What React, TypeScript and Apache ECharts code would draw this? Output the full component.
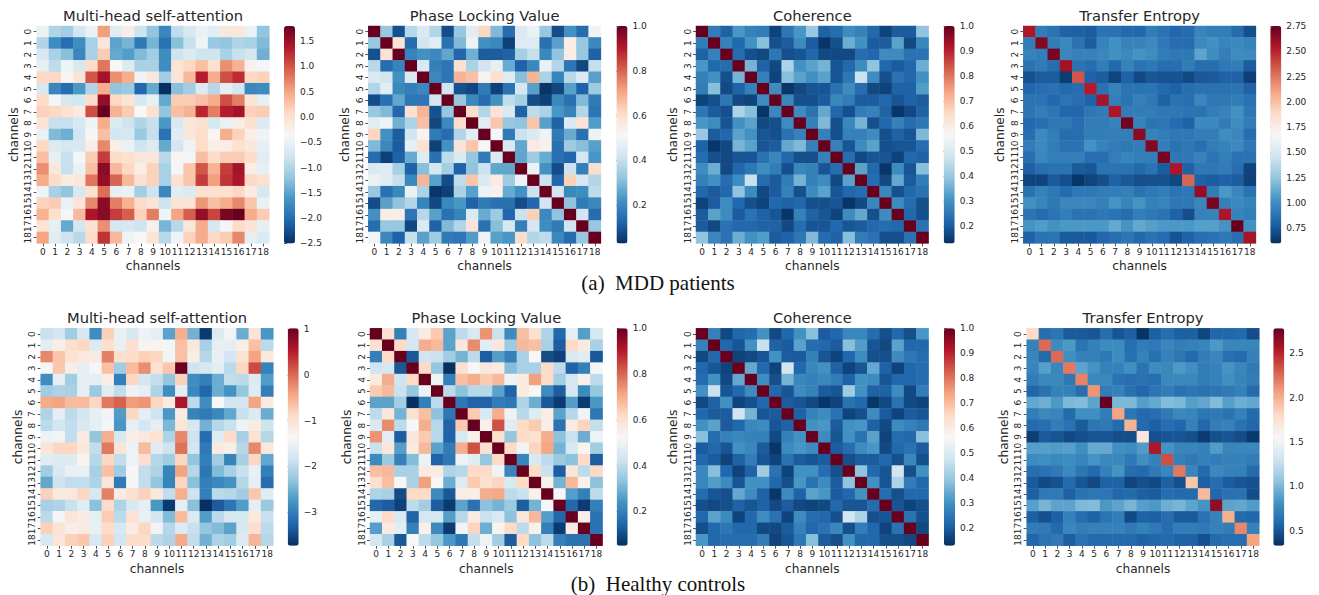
import React, { useEffect, useRef } from "react";
import * as echarts from "echarts";

const channels = ["0","1","2","3","4","5","6","7","8","9","10","11","12","13","14","15","16","17","18"];

const attentionMdd = [
[-0.5,-1.0,-1.1,-0.75,-0.5,0.55,-0.6,-0.2,-0.8,-1.2,-1.75,-0.9,-0.7,-0.5,-0.6,-0.1,-0.1,-0.5,-1.2],
[-1.0,-1.7,-2.0,-1.7,-1.05,-0.1,-1.5,-1.35,-1.9,-1.35,-1.95,-1.25,-0.85,-0.45,-1.15,-1.2,-1.0,-1.05,-1.3],
[-0.7,-1.05,-1.25,-1.75,-1.05,0.2,-1.45,-1.55,-1.3,-1.1,-1.7,-0.8,-0.65,-0.8,-0.8,-1.05,-0.85,-0.75,-1.4],
[-0.55,-0.9,-0.45,-0.7,0.05,0.8,-0.35,-0.65,-1.05,-1.05,-1.7,-0.05,0.1,0.3,0.0,0.65,0.4,-0.25,-0.4],
[0.1,0.1,-0.3,-0.05,1.0,1.45,0.65,0.45,-0.45,-0.1,-1.1,-0.05,0.35,1.35,0.45,1.05,1.25,0.1,0.15],
[-0.7,-1.75,-2.0,-1.6,-1.0,0.45,-1.2,-1.15,-2.05,-1.45,-2.5,-1.25,-1.1,-0.65,-0.95,-0.55,-0.75,-1.75,-1.7],
[0.05,-0.4,-0.7,-0.75,0.05,1.55,0.1,-0.05,-0.7,-0.55,-1.45,0.2,0.2,0.3,0.45,1.05,0.75,-0.05,-0.55],
[0.15,0.1,0.0,-0.15,1.05,1.8,0.4,0.2,-0.35,0.0,-1.2,0.3,0.4,1.3,0.75,1.35,1.45,0.15,0.2],
[-0.05,-0.85,-0.85,-0.7,-0.45,0.45,-0.65,-0.8,-1.0,-0.85,-1.6,-0.7,-0.1,0.0,-0.7,-0.5,-0.2,0.0,-0.65],
[-0.5,-1.3,-1.4,-0.75,-0.4,0.3,-0.75,-0.7,-1.15,-0.85,-1.95,-0.6,-0.1,0.05,-0.3,0.45,0.15,-0.2,-0.45],
[0.1,-0.65,-0.7,-0.7,-0.2,0.7,-0.2,-0.5,-0.8,-0.65,-1.45,-0.75,-0.45,0.05,-0.2,-0.2,0.0,-0.1,-0.55],
[0.3,-0.55,-0.85,-0.4,0.2,1.15,0.05,0.0,-0.1,-0.1,-0.95,-0.3,-0.4,0.3,0.05,0.2,0.2,0.05,-0.6],
[0.65,-0.1,-0.85,-0.5,0.3,1.6,0.35,0.1,-0.2,0.15,-1.05,-0.4,0.25,1.0,0.4,1.15,1.45,-0.2,-0.55],
[0.45,0.05,-0.15,-0.1,0.8,1.55,0.9,0.35,0.0,0.15,-1.05,0.0,0.25,1.15,0.55,1.2,1.4,0.1,0.0],
[-0.45,-1.05,-1.2,-0.7,0.0,0.85,-0.55,-0.5,-1.1,-0.8,-1.75,-0.6,-0.65,0.0,0.0,0.0,0.1,-0.15,-0.7],
[0.15,0.2,-0.5,-0.05,0.7,1.6,0.75,0.4,0.05,-0.05,-0.8,-0.05,-0.05,0.6,0.3,0.45,0.7,0.25,-0.5],
[0.4,0.0,-0.4,0.35,1.4,1.6,1.15,0.95,0.15,0.75,-0.45,0.5,0.95,1.55,1.1,1.7,1.8,0.45,0.2],
[-0.05,-0.55,-1.45,-0.75,0.0,0.65,-0.75,-0.7,-0.8,-0.25,-1.35,-0.95,-0.1,0.45,-0.7,-0.4,0.05,-0.05,-0.55],
[0.5,-0.6,-0.8,-0.95,0.05,1.2,0.35,-0.45,-0.35,-0.05,-0.95,-0.45,0.15,0.45,0.1,0.2,0.7,-0.55,-0.65],
];

const plvMdd = [
[1,.33,.09,.38,.44,.37,.08,.33,.46,.62,.3,.14,.44,.48,.33,.08,.22,.14,.5],
[.33,1,.58,.14,.42,.46,.15,.3,.49,.22,.2,.06,.45,.45,.15,.25,.55,.33,.2],
[.09,.58,1,.19,.22,.2,.26,.13,.28,.11,.11,.12,.35,.4,.2,.32,.55,.33,.12],
[.38,.14,.19,1,.44,.18,.16,.59,.36,.42,.47,.27,.12,.2,.48,.37,.16,.07,.4],
[.44,.42,.22,.44,1,.2,.16,.68,.66,.53,.59,.45,.31,.68,.36,.19,.38,.44,.25],
[.37,.46,.2,.18,.2,1,.42,.09,.07,.17,.06,.15,.43,.25,.04,.07,.25,.12,.34],
[.08,.15,.26,.16,.16,.42,1,.33,.2,.14,.22,.39,.35,.08,.06,.2,.15,.3,.17],
[.33,.3,.13,.59,.68,.09,.33,1,.6,.37,.58,.44,.12,.39,.36,.23,.19,.37,.16],
[.46,.49,.28,.36,.66,.07,.2,.6,1,.46,.65,.33,.32,.65,.25,.12,.44,.58,.24],
[.62,.22,.11,.42,.53,.17,.14,.37,.46,1,.51,.17,.41,.44,.49,.17,.27,.15,.49],
[.3,.2,.11,.47,.59,.06,.22,.58,.65,.51,1,.44,.26,.56,.54,.15,.34,.31,.25],
[.14,.06,.12,.27,.45,.15,.39,.44,.33,.17,.44,1,.26,.34,.27,.15,.13,.43,.23],
[.44,.45,.35,.12,.31,.43,.35,.12,.32,.41,.26,.26,1,.49,.22,.08,.41,.18,.6],
[.48,.45,.4,.2,.68,.25,.08,.39,.65,.44,.56,.34,.49,1,.41,.13,.63,.43,.37],
[.33,.15,.2,.48,.36,.04,.06,.36,.25,.49,.54,.27,.22,.41,1,.42,.2,.21,.39],
[.08,.25,.32,.37,.19,.07,.2,.23,.12,.17,.15,.15,.08,.13,.42,1,.32,.17,.2],
[.22,.55,.55,.16,.38,.25,.15,.19,.44,.27,.34,.13,.41,.63,.2,.32,1,.42,.14],
[.14,.33,.33,.07,.44,.12,.3,.37,.58,.15,.31,.43,.18,.43,.21,.17,.42,1,.33],
[.5,.2,.12,.4,.25,.34,.17,.16,.24,.49,.25,.23,.6,.37,.39,.2,.14,.33,1],
];

const coherenceMdd = [
[1,.26,.21,.31,.27,.26,.16,.25,.31,.4,.21,.23,.29,.27,.22,.16,.2,.2,.39],
[.26,1,.27,.22,.3,.38,.18,.2,.29,.2,.14,.18,.35,.3,.2,.2,.33,.17,.28],
[.21,.27,1,.23,.18,.17,.25,.18,.19,.22,.17,.17,.17,.23,.22,.29,.29,.24,.24],
[.31,.22,.23,1,.36,.21,.17,.43,.3,.33,.36,.19,.22,.29,.39,.22,.2,.22,.35],
[.27,.3,.18,.36,1,.27,.16,.38,.33,.3,.33,.19,.25,.47,.29,.18,.24,.22,.3],
[.26,.38,.17,.21,.27,1,.29,.14,.17,.19,.19,.24,.29,.23,.17,.16,.21,.21,.32],
[.16,.18,.25,.17,.16,.29,1,.28,.18,.18,.2,.28,.26,.2,.2,.22,.19,.21,.2],
[.25,.2,.18,.43,.38,.14,.28,1,.29,.24,.34,.22,.18,.26,.27,.21,.14,.17,.21],
[.31,.29,.19,.3,.33,.17,.18,.29,1,.27,.37,.18,.28,.36,.18,.22,.27,.23,.25],
[.4,.2,.22,.33,.3,.19,.18,.24,.27,1,.27,.18,.27,.27,.29,.18,.21,.19,.37],
[.21,.14,.17,.36,.33,.19,.2,.34,.37,.27,1,.27,.19,.29,.33,.18,.19,.19,.23],
[.23,.18,.17,.19,.19,.24,.28,.22,.18,.18,.27,1,.23,.17,.19,.19,.16,.22,.21],
[.29,.35,.17,.22,.25,.29,.26,.18,.28,.27,.19,.23,1,.33,.22,.14,.29,.19,.38],
[.27,.3,.23,.29,.47,.23,.2,.26,.36,.27,.29,.17,.33,1,.23,.17,.34,.2,.26],
[.22,.2,.22,.39,.29,.17,.2,.27,.18,.29,.33,.19,.22,.23,1,.28,.18,.22,.24],
[.16,.2,.29,.22,.18,.16,.22,.21,.22,.18,.18,.19,.14,.17,.28,1,.29,.23,.18],
[.2,.33,.29,.2,.24,.21,.19,.14,.27,.21,.19,.16,.29,.34,.18,.29,1,.22,.18],
[.2,.17,.24,.22,.22,.21,.21,.17,.23,.19,.19,.22,.19,.2,.22,.23,.22,1,.24],
[.39,.28,.24,.35,.3,.32,.2,.21,.25,.37,.23,.21,.38,.26,.24,.18,.18,.24,1],
];

const entropyMdd = [
[2.55,.92,.88,.8,.79,.78,.88,.87,.83,.82,.92,.87,.82,.84,.96,.93,.93,.84,.72],
[.92,2.68,.92,.98,.87,.78,.95,1.02,.95,.95,.98,.9,.85,.84,.98,1.02,.96,.98,.95],
[.95,.93,2.7,.97,.95,.95,.97,1.02,.98,1.03,1.0,.92,.9,.9,1.1,1.0,.93,1.0,.98],
[.87,.91,.85,2.58,.87,.85,.92,.83,.95,.87,.9,.85,.86,.92,.85,.85,.9,.92,.78],
[.73,.78,.78,.65,2.35,.8,.78,.68,.8,.7,.75,.74,.74,.7,.76,.77,.8,.8,.66],
[.82,.85,.87,.83,.85,2.53,.87,.95,.88,.88,.88,.83,.8,.85,.87,.87,.87,.88,.8],
[.88,.88,.83,.88,.85,.8,2.57,.93,.88,.94,.9,.8,.87,.85,.97,.9,.9,.92,.87],
[.89,.93,.89,.82,.82,.9,.92,2.55,.92,.92,.92,.9,.9,.88,.88,.93,.95,1.02,.9],
[.83,.86,.9,.9,.85,.92,.92,.95,2.72,.95,.88,.89,.84,.8,.98,.98,.92,1.0,.92],
[.85,.98,.92,.85,.85,.92,.93,.93,.93,2.65,.95,.93,.9,.9,.93,.93,1.0,.97,.85],
[.92,.98,.92,.87,.87,1.02,.95,.92,.9,.92,2.68,.93,.87,.9,.86,.93,.95,.98,.9],
[.85,.97,.93,.93,.93,.85,.86,.93,.96,.93,.93,2.7,.9,.9,.95,.88,.93,.87,.87],
[.79,.86,.87,.87,.77,.75,.88,.88,.87,.83,.88,.78,2.55,.8,.9,.9,.92,.85,.68],
[.68,.68,.77,.72,.62,.68,.72,.8,.76,.72,.73,.73,.69,2.3,.8,.78,.8,.78,.67],
[.87,.95,.9,.84,.9,.9,.92,.93,.94,.87,.9,.93,.88,.9,2.62,.92,1.05,.97,.88],
[1.02,.96,.9,.97,.97,.97,.94,1.03,.96,1.03,.94,.96,.9,.9,.97,2.7,.94,.98,.95],
[.88,.84,.88,.93,.87,.87,.9,.88,.85,.93,.9,.88,.8,.72,.95,.95,2.55,.95,.93],
[1.03,1.07,1.02,1.05,1.05,1.05,1.05,1.12,1.03,1.12,1.08,1.05,1.05,1.05,1.08,1.08,1.03,2.75,1.02],
[.8,.88,.88,.77,.77,.76,.82,.86,.89,.83,.87,.84,.74,.8,.86,.87,.9,.85,2.57],
];

const attentionHc = [
[-1.9,-1.8,-2.2,-1.75,-2.85,-.8,-1.55,-1.75,-1.5,-1.6,-2.65,-.5,-2.5,-3.65,-1.7,-1.45,-2.55,-1.0,-2.75],
[-1.6,-1.2,-.95,-.85,-1.7,-.95,-1.55,-.95,-1.3,-1.3,-1.4,-.65,-1.1,-2.15,-1.6,-1.6,-1.2,-.65,-2.0],
[-.2,-.7,-1.0,-1.1,-1.15,-.15,-.95,-.9,-.8,-.85,-1.45,-.65,-1.2,-2.05,-1.55,-1.8,-1.0,-.4,-1.1],
[-1.4,-.7,-1.2,-1.6,-1.35,-.65,-2.2,-.6,-.25,-1.0,-.7,1.0,-1.85,-1.75,-1.6,-2.0,-.85,.2,-2.95],
[-2.85,-1.6,-2.2,-1.6,-1.6,-1.2,-3.0,-.85,-1.8,-1.95,-2.3,-.8,-2.85,-3.0,-2.55,-1.95,-2.0,-1.7,-2.7],
[-2.2,-2.1,-2.15,-1.6,-2.25,-1.65,-1.95,-1.5,-1.6,-2.1,-2.85,-1.6,-2.9,-3.25,-2.55,-2.8,-2.3,-1.65,-3.0],
[-.45,-.4,-.6,-.6,-.85,-.1,.05,-.35,-.3,-.85,-1.15,.6,-2.0,-2.85,-1.35,-1.8,-1.8,-.4,-1.15],
[-2.1,-1.6,-2.0,-1.8,-1.6,-1.45,-2.7,-.85,-1.6,-1.85,-2.75,-1.15,-2.95,-3.05,-2.9,-2.6,-1.9,-1.7,-2.55],
[-2.0,-1.8,-1.95,-1.75,-1.6,-1.4,-2.75,-1.55,-1.8,-1.6,-2.45,-1.05,-1.75,-2.5,-2.05,-1.9,-1.5,-1.15,-1.85],
[-1.5,-1.45,-1.95,-1.15,-2.3,-.5,-1.75,-1.2,-1.1,-1.0,-2.1,-.2,-1.85,-3.2,-1.65,-.9,-2.15,-1.0,-2.05],
[-1.05,-.85,-.85,-1.1,-1.95,-.1,-1.05,-1.5,-.6,-1.65,-1.85,-.05,-1.8,-3.05,-1.15,-1.2,-2.05,-.2,-1.1],
[-1.65,-1.7,-1.7,-1.3,-2.05,-.85,-1.95,-1.5,-.95,-2.05,-2.2,-.85,-2.3,-3.0,-2.2,-2.95,-2.15,-.85,-2.6],
[-2.2,-1.75,-1.55,-1.55,-2.15,-.65,-2.2,-1.35,-1.95,-2.1,-2.95,-.4,-2.05,-3.1,-2.4,-2.15,-1.9,-1.55,-3.0],
[-2.6,-1.85,-1.95,-1.95,-2.1,-1.05,-3.05,-1.4,-1.95,-2.3,-2.95,-.85,-2.35,-3.0,-2.9,-2.8,-2.05,-1.6,-3.2],
[-.8,-1.1,-1.1,-.85,-1.75,-.15,-1.15,-.95,-.8,-1.1,-1.95,-.5,-1.85,-3.0,-2.0,-2.05,-2.2,-.7,-1.65],
[-2.15,-2.1,-1.9,-1.65,-2.35,-.9,-2.1,-1.75,-1.6,-2.75,-3.65,-1.6,-2.35,-3.74,-3.35,-3.1,-2.7,-1.6,-2.25],
[-2.0,-1.4,-1.05,-1.15,-1.6,-.75,-2.0,-1.0,-1.55,-1.8,-2.4,-.6,-1.7,-2.7,-2.0,-1.75,-1.75,-1.1,-1.9],
[-.8,-1.0,-1.2,-1.15,-1.55,-.9,-1.75,-1.15,-.85,-1.45,-2.05,-1.7,-1.9,-2.3,-2.4,-2.65,-1.75,-.95,-2.0],
[-1.75,-1.05,-.8,-.7,-1.75,-.8,-1.8,-.9,-.9,-2.0,-2.1,-.45,-1.95,-2.5,-2.1,-2.2,-1.7,-.55,-2.05],
];

const plvHc = [
[1,.6,.2,.44,.57,.65,.27,.4,.45,.74,.42,.22,.67,.6,.38,.15,.48,.26,.44],
[.6,1,.62,.44,.7,.68,.27,.58,.75,.47,.58,.35,.68,.67,.37,.13,.62,.57,.37],
[.2,.62,1,.12,.43,.42,.36,.3,.4,.13,.26,.2,.37,.53,.1,.08,.45,.47,.12],
[.43,.44,.12,1,.62,.34,.05,.6,.52,.58,.57,.32,.37,.37,.62,.4,.14,.2,.52],
[.57,.7,.43,.62,1,.5,.2,.67,.7,.65,.68,.5,.57,.72,.62,.36,.44,.55,.4],
[.65,.68,.42,.34,.5,1,.4,.33,.39,.39,.27,.14,.57,.53,.22,.13,.44,.22,.34],
[.27,.27,.36,.05,.2,.4,1,.18,.14,.14,.19,.18,.38,.29,.12,.07,.26,.07,.25],
[.4,.58,.3,.6,.67,.33,.18,1,.65,.45,.7,.5,.39,.46,.56,.27,.39,.51,.18],
[.45,.75,.4,.52,.7,.39,.14,.65,1,.55,.83,.47,.62,.65,.56,.17,.57,.63,.41],
[.74,.47,.13,.58,.65,.39,.14,.45,.55,1,.6,.34,.62,.6,.7,.33,.42,.29,.5],
[.42,.58,.26,.57,.68,.27,.19,.7,.83,.6,1,.62,.51,.63,.71,.3,.45,.54,.36],
[.22,.35,.2,.32,.5,.14,.18,.5,.47,.34,.62,1,.21,.45,.4,.35,.33,.62,.13],
[.67,.68,.37,.37,.57,.57,.38,.39,.62,.62,.51,.21,1,.62,.42,.13,.58,.4,.62],
[.6,.67,.53,.37,.72,.53,.29,.46,.65,.6,.63,.45,.62,1,.55,.3,.68,.55,.33],
[.38,.37,.1,.62,.62,.22,.12,.56,.56,.7,.71,.4,.42,.55,1,.52,.26,.2,.4],
[.15,.13,.08,.4,.36,.13,.07,.27,.17,.33,.3,.35,.13,.3,.52,1,.15,.07,.2],
[.48,.62,.45,.14,.44,.44,.26,.39,.57,.42,.45,.33,.58,.68,.26,.15,1,.56,.17],
[.26,.57,.47,.2,.55,.22,.07,.51,.63,.29,.54,.62,.4,.55,.2,.07,.56,1,.17],
[.44,.37,.12,.52,.4,.34,.25,.18,.41,.5,.36,.13,.62,.33,.4,.2,.17,.17,1],
];

const coherenceHc = [
[1,.27,.17,.22,.23,.3,.17,.22,.3,.38,.2,.22,.28,.28,.23,.18,.22,.18,.31],
[.27,1,.22,.19,.3,.47,.21,.2,.33,.23,.22,.2,.38,.32,.19,.17,.33,.22,.22],
[.17,.22,1,.16,.17,.19,.3,.2,.2,.27,.19,.16,.22,.29,.18,.18,.29,.25,.23],
[.22,.19,.16,1,.34,.22,.16,.48,.22,.28,.3,.21,.16,.19,.34,.21,.16,.22,.23],
[.23,.3,.17,.34,1,.29,.18,.36,.28,.27,.28,.26,.21,.3,.29,.19,.22,.22,.23],
[.3,.47,.19,.22,.29,1,.22,.19,.29,.27,.2,.19,.41,.3,.21,.21,.29,.17,.26],
[.17,.21,.3,.16,.18,.22,1,.2,.19,.17,.14,.16,.24,.22,.14,.17,.24,.17,.16],
[.22,.2,.2,.48,.36,.19,.2,1,.21,.27,.29,.24,.16,.18,.29,.2,.16,.2,.19],
[.3,.33,.2,.22,.28,.29,.19,.21,1,.3,.31,.2,.3,.31,.21,.17,.29,.27,.25],
[.38,.23,.27,.28,.27,.27,.17,.27,.3,1,.29,.19,.3,.24,.33,.16,.23,.22,.38],
[.2,.22,.19,.3,.28,.2,.14,.29,.31,.29,1,.2,.23,.29,.31,.17,.22,.24,.2],
[.22,.2,.16,.21,.26,.19,.16,.24,.2,.19,.2,1,.18,.2,.2,.22,.18,.28,.18],
[.28,.38,.22,.16,.21,.41,.24,.16,.3,.3,.23,.18,1,.39,.22,.19,.48,.18,.3],
[.28,.32,.29,.19,.3,.3,.22,.18,.31,.24,.29,.2,.39,1,.3,.19,.43,.26,.22],
[.23,.19,.18,.34,.29,.21,.14,.29,.21,.33,.31,.2,.22,.3,1,.23,.18,.22,.22],
[.18,.17,.18,.21,.19,.21,.17,.2,.17,.16,.17,.22,.19,.19,.23,1,.19,.16,.18],
[.22,.33,.29,.16,.22,.29,.24,.16,.29,.23,.22,.18,.48,.43,.18,.19,1,.24,.18],
[.18,.22,.25,.22,.22,.17,.17,.2,.27,.22,.24,.28,.18,.26,.22,.16,.24,1,.17],
[.31,.22,.23,.23,.23,.26,.16,.19,.25,.38,.2,.18,.3,.22,.22,.18,.18,.17,1],
];

const entropyHc = [
[1.8,.62,.66,.52,.52,.5,.62,.5,.55,.35,.55,.62,.55,.55,.43,.58,.58,.6,.46],
[.72,2.25,.78,.85,.65,.72,.78,.78,.62,.7,.68,.75,.7,.72,.74,.85,.75,.75,.75],
[.75,.6,2.25,.8,.72,.72,.68,.78,.63,.72,.63,.72,.66,.6,.7,.75,.63,.6,.72],
[.74,.88,.75,2.2,.9,.82,.72,.72,.8,.65,.78,.76,.85,.8,.7,.72,.82,.75,.68],
[.7,.76,.76,.68,2.17,.76,.76,.64,.62,.64,.62,.76,.76,.76,.7,.72,.8,.74,.7],
[.58,.64,.72,.72,.62,2.1,.7,.72,.63,.58,.66,.7,.64,.66,.64,.66,.68,.72,.6],
[.92,.95,.85,1.0,1.02,.9,2.78,1.0,1.0,.88,.93,1.02,1.0,.88,.92,1.02,.88,.95,.92],
[.7,.76,.74,.6,.8,.8,.7,2.05,.66,.6,.62,.68,.76,.74,.66,.68,.65,.72,.6],
[.6,.62,.7,.64,.52,.66,.68,.6,1.98,.6,.55,.62,.58,.72,.58,.7,.72,.64,.58],
[.4,.52,.5,.45,.47,.5,.5,.46,.46,1.7,.48,.5,.5,.47,.38,.47,.5,.46,.37],
[.88,.88,.86,.88,.8,.93,.93,.8,.78,.86,2.55,.82,.75,.75,.72,.86,.74,.75,.76],
[.78,.8,.76,.78,.74,.82,.76,.76,.68,.8,.72,2.35,.72,.68,.72,.7,.72,.72,.7],
[.62,.64,.68,.76,.66,.6,.72,.82,.62,.6,.68,.75,2.2,.74,.6,.76,.72,.72,.6],
[.52,.45,.48,.6,.5,.44,.56,.56,.42,.47,.45,.55,.47,1.9,.55,.62,.53,.5,.48],
[.55,.68,.68,.55,.64,.66,.66,.58,.6,.55,.53,.62,.6,.6,1.95,.58,.64,.64,.46],
[.88,.98,.9,.9,1.0,1.02,.85,.9,.98,.88,.85,.95,.98,.9,.82,2.65,.9,.92,.86],
[.55,.47,.55,.72,.62,.56,.65,.7,.45,.56,.55,.62,.52,.52,.64,.72,2.0,.6,.58],
[.7,.68,.6,.75,.7,.72,.72,.72,.68,.72,.68,.62,.7,.7,.68,.72,.7,2.15,.72],
[.58,.65,.68,.54,.64,.6,.6,.6,.6,.56,.58,.6,.56,.56,.48,.6,.62,.62,2.05],
];

const ticksAttMdd = [-2.5,-2,-1.5,-1,-0.5,0,0.5,1,1.5];
const ticksPlvMdd = [0.2,0.4,0.6,0.8,1];
const ticksCoh = [0.2,0.3,0.4,0.5,0.6,0.7,0.8,0.9,1];
const ticksTeMdd = [0.75,1,1.25,1.5,1.75,2,2.25,2.5,2.75];
const ticksAttHc = [-3,-2,-1,0,1];
const ticksTeHc = [0.5,1,1.5,2,2.5];

const RDBU_R = ["#053061","#2166ac","#4393c3","#92c5de","#d1e5f0","#f7f7f7","#fddbc7","#f4a582","#d6604d","#b2182b","#67001f"];
const INK = "#262626";
const SANS = "DejaVu Sans";

const TOP_A = 26, TOP_B = 328.3, H = 217.4, W = 232.6, CBW = 11;

const panels = [
  { title: "Multi-head self-attention", data: attentionMdd, left: 36.7, top: TOP_A, cb: 284, min: -2.5, max: 1.8, ticks: ticksAttMdd, dec: 1 },
  { title: "Phase Locking Value", data: plvMdd, left: 368.3, top: TOP_A, cb: 616.5, min: 0.03, max: 1, ticks: ticksPlvMdd, dec: 1 },
  { title: "Coherence", data: coherenceMdd, left: 696, top: TOP_A, cb: 943.7, min: 0.13, max: 1, ticks: ticksCoh, dec: 1 },
  { title: "Transfer Entropy", data: entropyMdd, left: 1023.3, top: TOP_A, cb: 1270.3, min: 0.6, max: 2.75, ticks: ticksTeMdd, dec: 2 },
  { title: "Multi-head self-attention", data: attentionHc, left: 40.7, top: TOP_B, cb: 287.7, min: -3.74, max: 1.02, ticks: ticksAttHc, dec: 0 },
  { title: "Phase Locking Value", data: plvHc, left: 370, top: TOP_B, cb: 616.7, min: 0.05, max: 1, ticks: ticksPlvMdd, dec: 1 },
  { title: "Coherence", data: coherenceHc, left: 696, top: TOP_B, cb: 944, min: 0.13, max: 1, ticks: ticksCoh, dec: 1 },
  { title: "Transfer Entropy", data: entropyHc, left: 1026.7, top: TOP_B, cb: 1273.3, min: 0.33, max: 2.78, ticks: ticksTeHc, dec: 1 },
];

function buildOption() {
  const grid: any[] = [], xAxis: any[] = [], yAxis: any[] = [], series: any[] = [], visualMap: any[] = [], title: any[] = [];
  panels.forEach((p, i) => {
    const hmIndex = grid.length;
    grid.push({ left: p.left, top: p.top, width: W, height: H });
    const catAxis = {
      type: "category", data: channels, gridIndex: hmIndex,
      axisLine: { show: false }, splitLine: { show: false }, splitArea: { show: false },
      axisTick: { show: true, alignWithLabel: true, length: 3, lineStyle: { color: INK, width: 0.8 } },
      name: "channels", nameLocation: "middle",
      nameTextStyle: { fontFamily: SANS, fontSize: 12.2, color: INK },
    };
    xAxis.push({ ...catAxis, position: "bottom", nameGap: 17,
      axisLabel: { interval: 0, fontFamily: SANS, fontSize: 9, color: INK, margin: 4 } });
    yAxis.push({ ...catAxis, inverse: true, position: "left", nameGap: 17,
      axisLabel: { interval: 0, rotate: 90, fontFamily: SANS, fontSize: 9, color: INK, margin: 4 } });
    const cells: number[][] = [];
    p.data.forEach((row, r) => row.forEach((v, c) => cells.push([c, r, v])));
    series.push({ type: "heatmap", xAxisIndex: hmIndex, yAxisIndex: hmIndex, data: cells, silent: true, emphasis: { disabled: true }, itemStyle: { borderWidth: 0 }, progressive: 0 });
    visualMap.push({
      type: "continuous", seriesIndex: i, dimension: 2, min: p.min, max: p.max,
      left: p.cb, top: p.top, itemWidth: CBW, itemHeight: H, padding: 0,
      calculable: false, hoverLink: false, showLabel: false, inRange: { color: RDBU_R },
    });
    const cbIndex = grid.length;
    grid.push({ left: p.cb, top: p.top, width: CBW, height: H });
    xAxis.push({ type: "value", gridIndex: cbIndex, show: false, min: 0, max: 1 });
    yAxis.push({
      type: "value", gridIndex: cbIndex, position: "right", min: p.min, max: p.max,
      axisLine: { show: false }, splitLine: { show: false },
      axisTick: { show: true, length: 3, customValues: p.ticks, lineStyle: { color: INK, width: 0.8 } },
      axisLabel: { customValues: p.ticks, fontFamily: SANS, fontSize: 9, color: INK, margin: 5, showMinLabel: true, showMaxLabel: true,
        formatter: (v: number) => v.toFixed(p.dec).replace("-", "\u2212") },
    });
    title.push({ text: p.title, left: p.left + W / 2, top: p.top - 18, textAlign: "center", padding: 0,
      textStyle: { fontFamily: SANS, fontSize: 14.7, fontWeight: "normal", color: INK } });
  });
  title.push({ text: "(a)  MDD patients", left: 658, top: 272, textAlign: "center", padding: 0,
    textStyle: { fontFamily: "Liberation Serif", fontSize: 21, fontWeight: "normal", color: "#111" } });
  title.push({ text: "(b)  Healthy controls", left: 658, top: 573, textAlign: "center", padding: 0,
    textStyle: { fontFamily: "Liberation Serif", fontSize: 21, fontWeight: "normal", color: "#111" } });
  return { animation: false, backgroundColor: "#fff", title, grid, xAxis, yAxis, visualMap, series, tooltip: { show: false } };
}

export default function App() {
  const ref = useRef<HTMLDivElement>(null);
  useEffect(() => {
    document.body.style.margin = "0";
    const chart = echarts.init(ref.current!, undefined, { renderer: "svg" });
    chart.setOption(buildOption() as any);
    return () => chart.dispose();
  }, []);
  return <div ref={ref} style={{ width: 1319, height: 595 }} />;
}
